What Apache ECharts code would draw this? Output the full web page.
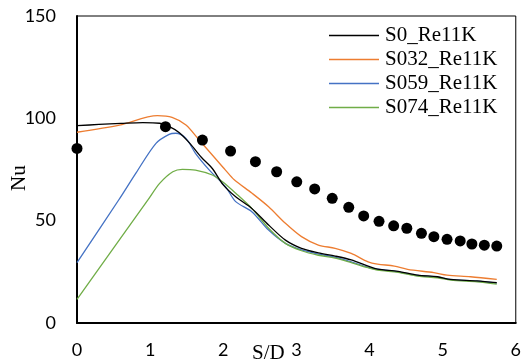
<!DOCTYPE html>
<html>
<head>
<meta charset="utf-8">
<script src="https://cdn.jsdelivr.net/npm/echarts@6/dist/echarts.min.js"></script>
<style>html,body{margin:0;padding:0;background:#fff}#c{width:524px;height:364px}</style>
</head>
<body>
<div id="c"></div>
<script>
var seriesNames = ['S0_Re11K', 'S032_Re11K', 'S059_Re11K', 'S074_Re11K'];
var xTicks = [0, 1, 2, 3, 4, 5, 6];
var yTicks = [0, 50, 100, 150];

var s0 = [[0,96.4],[0.3,97.0],[0.6,97.5],[0.9,97.9],[1.13,97.6],[1.25,96.2],[1.4,93.0],[1.55,87.5],[1.7,81.0],[1.85,75.5],[2.0,67.5],[2.17,61.7],[2.39,56.0],[2.62,47.9],[2.85,40.5],[3.07,36.5],[3.3,34.3],[3.53,32.7],[3.75,30.8],[3.98,27.8],[4.11,26.3],[4.39,25.2],[4.66,23.4],[4.93,22.6],[5.11,21.3],[5.47,20.6],[5.74,19.7]];
var s032 = [[0,93.2],[0.58,96.7],[1.1,101.3],[1.3,100.5],[1.49,96.7],[1.67,89.4],[1.85,82.1],[2.03,74.7],[2.15,70.0],[2.39,63.5],[2.62,56.8],[2.85,48.7],[3.07,42.2],[3.3,38.1],[3.53,36.5],[3.75,34.0],[3.98,29.9],[4.11,28.8],[4.34,27.8],[4.52,26.2],[4.88,24.6],[5.06,23.4],[5.38,22.6],[5.74,21.3]];
var s059 = [[0,29.5],[0.57,60.1],[0.81,73.5],[1.08,87.8],[1.26,92.2],[1.35,92.7],[1.49,90.2],[1.62,82.9],[1.81,74.7],[2.03,66.6],[2.17,59.3],[2.39,54.4],[2.62,45.4],[2.85,38.9],[3.07,35.7],[3.3,33.7],[3.53,32.1],[3.75,29.9],[3.98,27.2],[4.11,26.3],[4.39,25.0],[4.66,23.2],[4.93,22.4],[5.11,21.2],[5.47,20.4],[5.74,19.5]];
var s074 = [[0,11.6],[0.97,60.1],[1.13,68.2],[1.31,73.9],[1.44,75.1],[1.62,74.7],[1.85,72.3],[1.99,69.0],[2.17,63.4],[2.39,56.0],[2.62,46.3],[2.85,38.9],[3.07,35.3],[3.3,33.1],[3.53,31.7],[3.75,29.5],[3.98,27.0],[4.11,25.8],[4.39,24.7],[4.66,22.9],[4.93,22.1],[5.11,20.9],[5.47,20.1],[5.74,19.0]];
var dots = [[0,85.3],[1.21,95.9],[1.715,89.4],[2.1,84.0],[2.44,78.8],[2.73,73.9],[3.005,69.0],[3.25,65.5],[3.49,60.9],[3.716,56.5],[3.92,52.3],[4.13,49.7],[4.33,47.5],[4.51,46.3],[4.71,43.8],[4.88,42.2],[5.06,40.9],[5.24,40.1],[5.4,38.6],[5.57,38.0],[5.74,37.6]];

var colors = ['#000000', '#ED7D31', '#4472C4', '#70AD47'];
var lineData = [s0, s032, s059, s074];

var chart = echarts.init(document.getElementById('c'));
var series = lineData.map(function (d, i) {
  return {
    name: seriesNames[i], type: 'line', data: d, smooth: 0.3, symbol: 'none',
    lineStyle: { color: colors[i], width: 1.3 }, itemStyle: { color: colors[i] },
    z: 3 + (i === 0 ? 1 : 0)
  };
});
series.push({
  name: 'exp', type: 'scatter', data: dots, symbol: 'circle', symbolSize: 11,
  itemStyle: { color: '#000', opacity: 1 }, z: 5
});

var serif = '"Liberation Serif", "Times New Roman", serif';

chart.setOption({
  animation: false,
  backgroundColor: '#fff',
  grid: { left: 77, right: 5, top: 16, bottom: 41, show: true, borderColor: '#000', borderWidth: 1 },
  xAxis: {
    type: 'value', min: xTicks[0], max: xTicks[xTicks.length - 1], interval: 1,
    axisLine: { show: true, lineStyle: { color: '#000', width: 2 } },
    axisTick: { show: false }, splitLine: { show: false },
    axisLabel: { color: '#000', fontSize: 18, fontFamily: 'Lato, sans-serif', margin: 18 }
  },
  yAxis: {
    type: 'value', min: yTicks[0], max: yTicks[yTicks.length - 1], interval: 50,
    axisLine: { show: true, lineStyle: { color: '#000', width: 2 } },
    axisTick: { show: false }, splitLine: { show: false },
    axisLabel: { color: '#000', fontSize: 18, fontFamily: 'Lato, sans-serif', margin: 21 }
  },
  legend: {
    show: true,
    data: seriesNames, orient: 'vertical', left: 329, top: 25, padding: 0,
    icon: 'rect', itemWidth: 50, itemHeight: 1.5, itemGap: 3,
    textStyle: { color: '#000', fontSize: 21, fontFamily: serif, padding: [0, 0, 0, 1] },
    selectedMode: false
  },
  graphic: [
    { type: 'text', left: 252, top: 343, style: { text: 'S/D', fontSize: 21, fontFamily: serif, fill: '#000' } },
    { type: 'text', x: 9, y: 191, rotation: Math.PI / 2, style: { text: 'Nu', fontSize: 21, fontFamily: serif, fill: '#000' } }
  ],
  series: series
});
</script>
</body>
</html>
